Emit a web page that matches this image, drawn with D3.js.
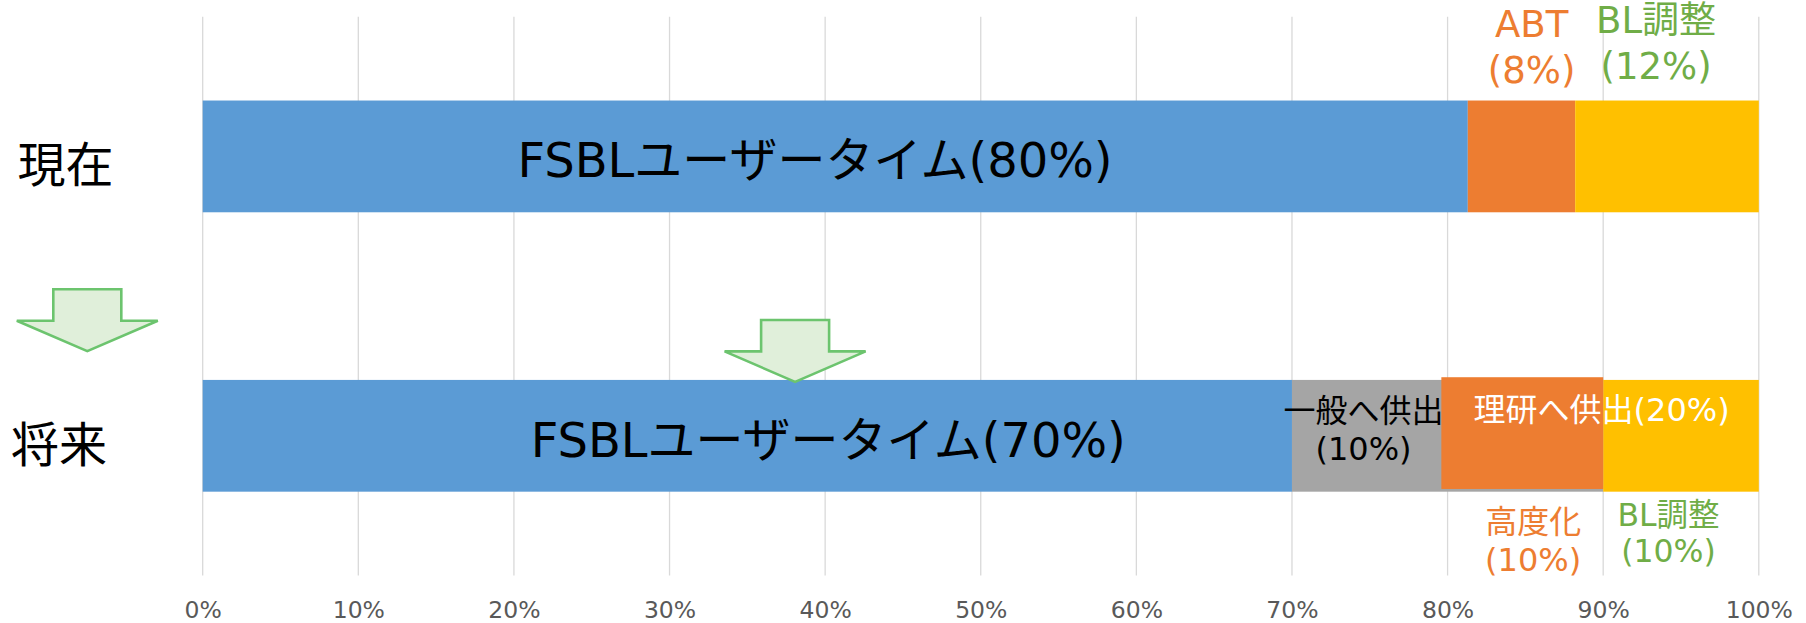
<!DOCTYPE html>
<meta charset="utf-8">
<head>
	<title>FSBL beamtime</title>
	<style>
		body { margin: 0; background: #FFFFFF; }
		svg { display: block; font-family: "DejaVu Sans", "Noto Sans CJK JP", sans-serif; }
		.grid line { stroke: #D9D9D9; stroke-width: 1.3; }
		.xAxis text { fill: #595959; font-size: 23.5px; }
		.catLabel { font-size: 48px; fill: #000; font-family: "Noto Sans CJK JP", sans-serif; }
		.arrow { fill: #E0EFDA; stroke: #6CC46E; stroke-width: 2.6; stroke-linejoin: miter; }
	</style>
	<script src="https://d3js.org/d3.v7.min.js"></script>
</head>
<body>
	<div id="chart"></div>
	<script>
		const WIDTH = 1806, HEIGHT = 623;

		// categories (rows) and the stacked series, in percent
		const categories = ['現在', '将来'];
		const seriesKeys = ['user', 'general', 'riken', 'bl'];
		const userTime = [81.3, 70];
		const generalOut = [0, 20];
		const rikenOut = [6.9, 0];
		const blAdjust = [11.8, 10];
		const seriesColors = ['#5B9BD5', '#A5A5A5', '#ED7D31', '#FFC000'];

		// orange box laid over the grey part of the future bar
		const overlayCat = '将来';
		const overlayStart = 79.6;
		const overlayEnd = 90;

		const tickValues = [0, 10, 20, 30, 40, 50, 60, 70, 80, 90, 100];

		// text boxes: category, anchor in percent, lines, colour, font size, first baseline from band top, line gap
		const annotations = [
			{ cat: '現在', at: 39.35, lines: ['FSBLユーザータイム(80%)'], color: '#000', size: 48, base: 76.5, gap: 0 },
			{ cat: '現在', at: 85.4, lines: ['ABT', '(8%)'], color: '#ED7D31', size: 37, base: -63.5, gap: 45.5 },
			{ cat: '現在', at: 93.4, lines: ['BL調整', '(12%)'], color: '#70AD47', size: 37, base: -67.5, gap: 45.5 },
			{ cat: '将来', at: 40.2, lines: ['FSBLユーザータイム(70%)'], color: '#000', size: 48, base: 77, gap: 0 },
			{ cat: '将来', at: 74.6, lines: ['一般へ供出', '(10%)'], color: '#000', size: 32, base: 42, gap: 38 },
			{ cat: '将来', at: 89.9, lines: ['理研へ供出(20%)'], color: '#FFFFFF', size: 32, base: 41, gap: 0 },
			{ cat: '将来', at: 85.5, lines: ['高度化', '(10%)'], color: '#ED7D31', size: 32, base: 153, gap: 38 },
			{ cat: '将来', at: 94.2, lines: ['BL調整', '(10%)'], color: '#70AD47', size: 31.5, base: 146, gap: 36 }
		];

		const svg = d3.select('#chart').append('svg')
			.attr('width', WIDTH).attr('height', HEIGHT);

		const x = d3.scaleLinear().domain([0, 100]).range([202.7, 1758.8]);
		const y = d3.scaleBand().domain(categories).range([16.7, 575.5])
			.paddingInner(0.6).paddingOuter(0.3);

		// vertical gridlines
		svg.append('g').attr('class', 'grid')
			.selectAll('line').data(tickValues).join('line')
			.attr('x1', d => x(d)).attr('x2', d => x(d))
			.attr('y1', y.range()[0]).attr('y2', y.range()[1]);

		// bottom axis, labels only
		const xAxis = svg.append('g').attr('class', 'xAxis')
			.attr('transform', `translate(0,${y.range()[1]})`)
			.call(d3.axisBottom(x).tickValues(tickValues).tickSize(0).tickPadding(25.5).tickFormat(d => d + '%'));
		xAxis.select('.domain').remove();
		xAxis.attr('font-family', null);

		// stacked bars
		const rows = categories.map((c, i) => ({ cat: c, user: userTime[i], general: generalOut[i], riken: rikenOut[i], bl: blAdjust[i] }));
		const stacked = d3.stack().keys(seriesKeys)(rows);

		svg.append('g').selectAll('g').data(stacked).join('g')
			.attr('fill', (d, i) => seriesColors[i])
			.selectAll('rect').data(d => d.filter(s => s[1] > s[0])).join('rect')
			.attr('x', d => x(d[0]))
			.attr('width', d => x(d[1]) - x(d[0]))
			.attr('y', d => y(d.data.cat))
			.attr('height', y.bandwidth());

		svg.append('rect')
			.attr('x', x(overlayStart)).attr('width', x(overlayEnd) - x(overlayStart))
			.attr('y', y(overlayCat) - 2.7).attr('height', y.bandwidth())
			.attr('fill', '#ED7D31');

		// category labels on the left
		svg.append('g').selectAll('text').data(categories).join('text')
			.attr('class', 'catLabel')
			.attr('x', (d, i) => i === 0 ? 65.5 : 59)
			.attr('text-anchor', 'middle')
			.attr('y', d => y(d) + y.bandwidth() / 2 + 7.5)
			.attr('dy', '0.38em')
			.text(d => d);

		// annotations
		annotations.forEach(a => {
			const t = svg.append('text')
				.attr('text-anchor', 'middle')
				.attr('fill', a.color)
				.style('font-size', a.size + 'px');
			a.lines.forEach((line, i) => {
				t.append('tspan')
					.attr('x', x(a.at))
					.attr('y', y(a.cat) + a.base + i * a.gap)
					.text(line);
			});
		});

		// down arrows
		function arrowPath(cx, top) {
			const shaft = 34, wing = 70.5, shaftH = 31.4, headH = 30.5;
			return `M${cx - shaft},${top} L${cx + shaft},${top} L${cx + shaft},${top + shaftH} L${cx + wing},${top + shaftH}
				L${cx},${top + shaftH + headH} L${cx - wing},${top + shaftH} L${cx - shaft},${top + shaftH} Z`;
		}
		svg.append('path').attr('class', 'arrow').attr('d', arrowPath(87.3, 289.3));
		svg.append('path').attr('class', 'arrow').attr('d', arrowPath(x(38.07), 320));
	</script>
</body>
